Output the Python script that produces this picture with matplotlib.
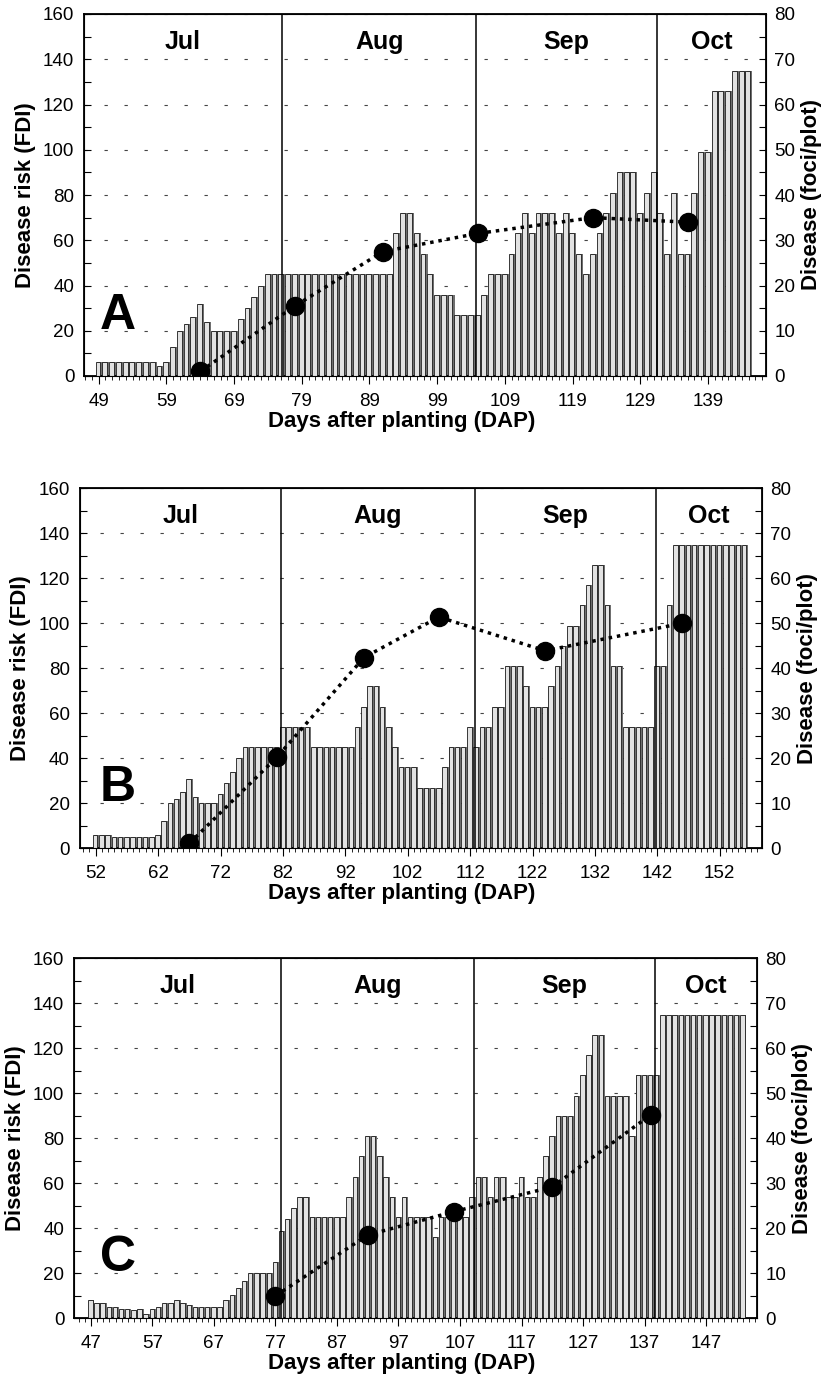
import matplotlib
matplotlib.use('Agg')
import matplotlib.pyplot as plt
from matplotlib.ticker import MultipleLocator, FixedLocator
import numpy as np

plt.rcParams['font.family'] = ['Liberation Sans', 'DejaVu Sans']

# ---- panel A ----
a_first_day = 49
a_fdi = [6, 6, 6, 6, 6, 6, 6, 6, 6, 4.5, 6, 13, 20, 23, 26, 32, 24, 20, 20, 20,
         20, 25, 30, 35, 40, 45, 45, 45, 45, 45, 45, 45, 45, 45, 45, 45, 45, 45, 45,
         45, 45, 45, 45, 45, 63, 72, 72, 63, 54, 45, 36, 36, 36, 27, 27, 27, 27, 36,
         45, 45, 45, 54, 63, 72, 63, 72, 72, 72, 63, 72, 63, 54, 45, 54, 63, 72, 81,
         90, 90, 90, 72, 81, 90, 72, 54, 81, 54, 54, 81, 99, 99, 126, 126, 126, 135,
         135, 135]
a_ticks = [49, 59, 69, 79, 89, 99, 109, 119, 129, 139]
a_dot_days = [64, 78, 91, 105, 122, 136]
a_disease = [1, 15.5, 27.5, 31.5, 35, 34]
a_months = [76.1, 104.8, 131.4]

# ---- panel B ----
b_first_day = 52
b_fdi = [6, 6, 6, 5, 5, 5, 5, 5, 5, 5, 6, 12, 20, 22, 25, 31, 23, 20, 20, 20,
         24, 29, 34, 40, 45, 45, 45, 45, 45, 45, 54, 54, 54, 54, 54, 45, 45, 45, 45,
         45, 45, 45, 54, 63, 72, 72, 63, 54, 45, 36, 36, 36, 27, 27, 27, 27, 36, 45,
         45, 45, 54, 45, 54, 54, 63, 63, 81, 81, 81, 72, 63, 63, 63, 72, 81, 90, 99,
         99, 108, 117, 126, 126, 108, 81, 81, 54, 54, 54, 54, 54, 81, 81, 108, 135,
         135, 135, 135, 135, 135, 135, 135, 135, 135, 135, 135]
b_ticks = [52, 62, 72, 82, 92, 102, 112, 122, 132, 142, 152]
b_dot_days = [67, 81, 95, 107, 124, 146]
b_disease = [1.1, 20.2, 42.4, 51.4, 43.9, 50]
b_months = [81.7, 112.8, 141.8]

# ---- panel C ----
c_first_day = 47
c_fdi = [8, 7, 7, 5, 5, 4, 4, 3.5, 4, 2, 4, 5, 7, 7, 8, 7, 6, 5, 5, 5, 5, 5,
         8, 10.5, 13.5, 16.5, 20, 20, 20, 20, 25, 39, 44, 49, 54, 54, 45, 45, 45,
         45, 45, 45, 54, 63, 72, 81, 81, 72, 63, 54, 45, 54, 45, 45, 45, 45, 36, 45,
         45, 45, 45, 45, 54, 63, 63, 54, 63, 63, 54, 54, 63, 54, 54, 63, 72, 81, 90,
         90, 90, 99, 108, 117, 126, 126, 99, 99, 99, 99, 81, 108, 108, 108, 108, 135,
         135, 135, 135, 135, 135, 135, 135, 135, 135, 135, 135, 135, 135]
c_ticks = [47, 57, 67, 77, 87, 97, 107, 117, 127, 137, 147]
c_dot_days = [77, 92, 106, 122, 138]
c_disease = [5, 18.5, 23.7, 29.2, 45.2]
c_months = [77.85, 109.3, 138.7]

month_names = ['Jul', 'Aug', 'Sep', 'Oct']

W, H = 827, 1387
fig = plt.figure(figsize=(W / 100, H / 100), dpi=100)


def panel(box, xlim, first_day, fdi, ticks, dot_days, disease, months, letter):
    # box in pixels: left, right, top, bottom
    l, r, t, b = box
    ax = fig.add_axes([l / W, 1 - b / H, (r - l) / W, (b - t) / H])
    days = np.arange(first_day, first_day + len(fdi))

    ax.bar(days + 0.13, fdi, width=0.88, color='#6f6f6f', edgecolor='none', zorder=2)
    ax.bar(days - 0.1, fdi, width=0.72, color='#e2e2e2', edgecolor='#1a1a1a',
           linewidth=0.6, zorder=3)

    for m in months:
        ax.axvline(m, color='black', lw=1.1, zorder=4)

    bounds = [xlim[0]] + months + [xlim[1]]
    for i, name in enumerate(month_names):
        ax.text((bounds[i] + bounds[i + 1]) / 2, 147.5, name, ha='center', va='center',
                fontsize=18, fontweight='bold', zorder=5)

    ax.set_xlim(*xlim)
    ax.set_ylim(0, 160)
    ax.yaxis.set_major_locator(MultipleLocator(20))
    ax.yaxis.set_minor_locator(MultipleLocator(10))
    ax.xaxis.set_major_locator(FixedLocator(ticks))
    ax.xaxis.set_minor_locator(MultipleLocator(1))
    ax.tick_params(axis='y', which='both', direction='in', length=5, width=0.8,
                   labelsize=13.5, pad=7)
    ax.tick_params(axis='x', which='major', direction='out', length=6, width=0.8,
                   labelsize=13.5, pad=6)
    ax.tick_params(axis='x', which='minor', direction='out', length=3, width=0.6)
    ax.grid(axis='y', which='major', color='#444444', lw=0.8, linestyle=(0, (3, 15)))
    ax.set_axisbelow(True)
    for s in ax.spines.values():
        s.set_linewidth(1.3)

    ax.set_ylabel('Disease risk (FDI)', fontsize=16, fontweight='bold', labelpad=5)
    ax.set_xlabel('Days after planting (DAP)', fontsize=16, fontweight='bold', labelpad=1,
                  x=(402 - l) / (r - l))

    ax2 = ax.twinx()
    ax2.set_ylim(0, 80)
    ax2.yaxis.set_major_locator(MultipleLocator(10))
    ax2.yaxis.set_minor_locator(MultipleLocator(5))
    ax2.tick_params(axis='y', which='both', direction='in', length=5, width=0.8,
                    labelsize=13.5, pad=6)
    ax2.set_ylabel('Disease (foci/plot)', fontsize=16, fontweight='bold', rotation=90,
                   labelpad=4)
    ax2.plot(dot_days, disease, color='black', lw=2.5, linestyle=(0, (1, 1.4)),
             marker='o', ms=13, zorder=6)

    fig.text(117.5 / W, 1 - (b - 60) / H, letter, ha='center', va='center',
             fontsize=36, fontweight='bold')
    return ax


panel((84, 766, 14, 376), (46.83, 147.57), a_first_day, a_fdi, a_ticks,
      a_dot_days, a_disease, a_months, 'A')
panel((79.5, 762, 488.3, 848.3), (49.40, 158.78), b_first_day, b_fdi, b_ticks,
      b_dot_days, b_disease, b_months, 'B')
panel((74, 757, 958.3, 1318.3), (44.24, 155.29), c_first_day, c_fdi, c_ticks,
      c_dot_days, c_disease, c_months, 'C')

fig.savefig('out.png', dpi=100)
